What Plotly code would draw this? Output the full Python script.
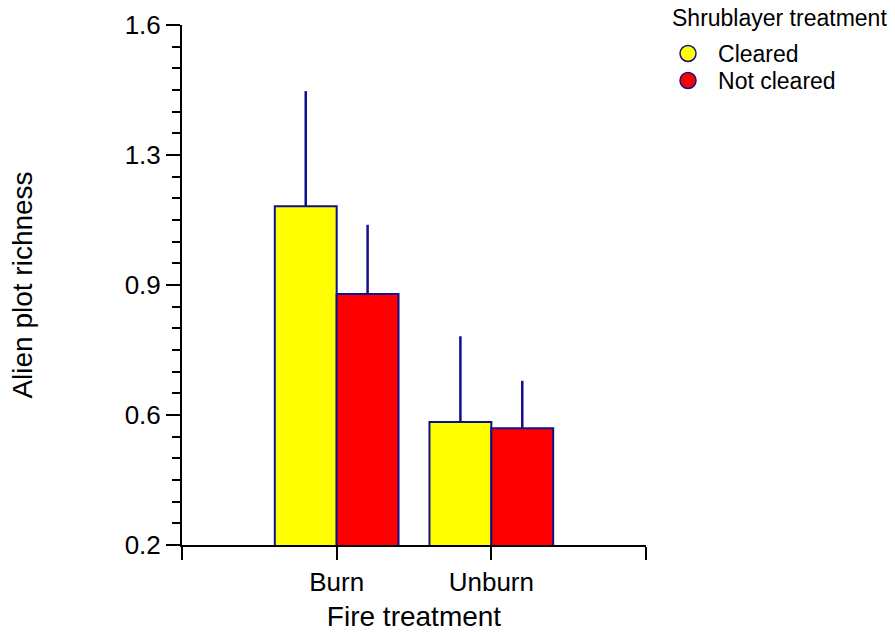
import plotly.graph_objects as go

categories = ["Burn", "Unburn"]
cat_pos = [1, 2]
cleared = [1.112, 0.531]
cleared_err = [0.310, 0.231]
not_cleared = [0.876, 0.514]
not_cleared_err = [0.186, 0.128]
y_tickvals = [0.2, 0.55, 0.9, 1.25, 1.6]
y_ticktext = ["0.2", "0.6", "0.9", "1.3", "1.6"]
legend_title = "Shrublayer treatment"

NAVY = "#10108c"
FONT = "Liberation Sans, Arial, sans-serif"

fig = go.Figure()
for name, vals, errs, col, lg in [("Cleared", cleared, cleared_err, "#FFFF00", "legend"),
                                  ("Not cleared", not_cleared, not_cleared_err, "#FF0000", "legend2")]:
    fig.add_trace(go.Bar(
        x=cat_pos, y=vals, name=name, showlegend=False,
        marker=dict(color=col, line=dict(color=NAVY, width=2)),
        error_y=dict(type="data", array=errs, arrayminus=[0] * len(errs),
                     symmetric=False, width=0, thickness=2.5, color=NAVY),
    ))
    fig.add_trace(go.Scatter(
        x=[None], y=[None], mode="markers", name=name, legend=lg,
        marker=dict(symbol="circle", size=18, color=col, line=dict(color=NAVY, width=1.5)),
    ))

fig.update_layout(
    width=895, height=633,
    margin=dict(l=182, r=249, t=25, b=88, autoexpand=False),
    paper_bgcolor="white", plot_bgcolor="white",
    font=dict(family=FONT, color="black", size=23),
    barmode="group", bargap=0.2, bargroupgap=0,
    legend=dict(
        x=1.0259, xanchor="left", y=0.9865, yanchor="top", itemwidth=50,
        font=dict(size=23), bgcolor="rgba(0,0,0,0)", tracegroupgap=0,
    ),
    legend2=dict(
        x=1.0259, xanchor="left", y=0.9346, yanchor="top", itemwidth=50,
        font=dict(size=23), bgcolor="rgba(0,0,0,0)", tracegroupgap=0,
    ),
    annotations=[dict(
        text=legend_title, xref="paper", yref="paper", x=1.0517, y=1.0135,
        xanchor="left", yanchor="middle", showarrow=False, font=dict(size=23),
    )],
    xaxis=dict(
        range=[0, 3], tickvals=[0, 1, 2, 3], ticktext=["", categories[0], categories[1], ""],
        showgrid=False, zeroline=False, showline=True, linecolor="black", linewidth=2,
        ticks="outside", ticklen=13, tickwidth=2, tickcolor="black",
        tickfont=dict(size=26),
        title=dict(text="Fire treatment", font=dict(size=28), standoff=10),
    ),
    yaxis=dict(
        range=[0.2, 1.6], tickvals=y_tickvals, ticktext=y_ticktext,
        showgrid=False, zeroline=False, showline=True, linecolor="black", linewidth=2,
        ticks="outside", ticklen=14, tickwidth=2, tickcolor="black",
        tickfont=dict(size=26),
        minor=dict(tickmode="linear", tick0=0.2, dtick=0.35 / 6, ticks="outside",
                   ticklen=8, tickwidth=2, tickcolor="black", showgrid=False),
        title=dict(text="Alien plot richness", font=dict(size=28), standoff=84),
    ),
)

fig.write_html("out.html")
